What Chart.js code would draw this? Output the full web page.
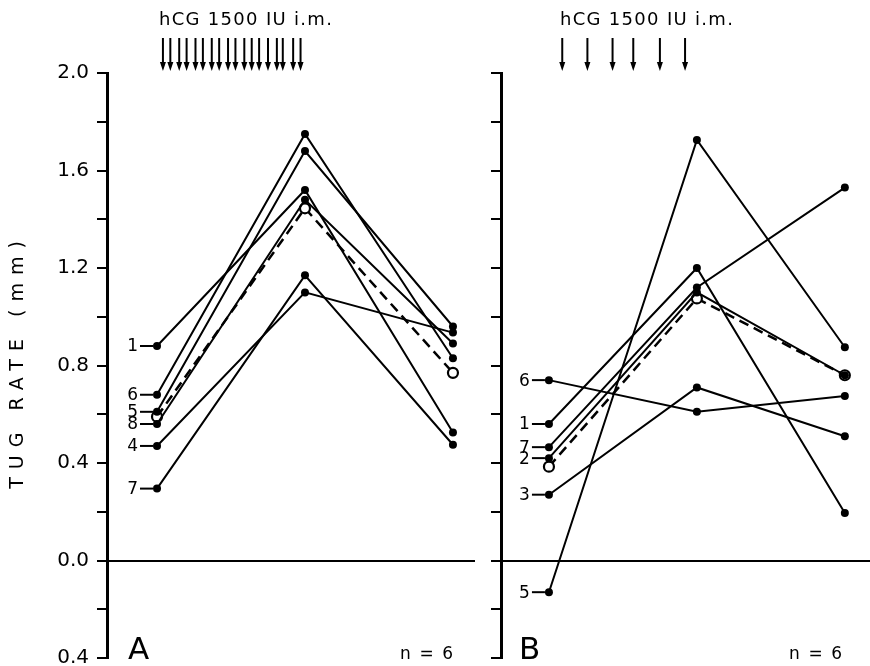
<!DOCTYPE html>
<html>
<head>
<meta charset="utf-8">
<script src="https://cdn.jsdelivr.net/npm/chart.js@4.4.1/dist/chart.umd.min.js"></script>
<style>
  html, body { margin: 0; padding: 0; background: #fff; overflow: hidden; width: 870px; height: 666px; }
  canvas { position: absolute; top: 0; }
</style>
</head>
<body>
<canvas id="chartA" width="480" height="680" style="left:0"></canvas>
<canvas id="chartB" width="390" height="680" style="left:480px"></canvas>
<script>
// time points (before, during, after hCG)
const days = [0, 1, 2];

// panel A: subject numbers and tug rate (mm)
const subjectsA = ["1", "6", "5", "8", "4", "7"];
const a1 = [0.88, 1.52, 0.525];
const a6 = [0.68, 1.75, 0.83];
const a5 = [0.61, 1.68, 0.96];
const a8 = [0.56, 1.48, 0.89];
const a4 = [0.47, 1.10, 0.935];
const a7 = [0.295, 1.17, 0.475];
const meanA = [0.59, 1.445, 0.77];

// panel B
const subjectsB = ["6", "1", "7", "2", "3", "5"];
const b6 = [0.74, 0.61, 0.675];
const b1 = [0.56, 1.20, 0.195];
const b7 = [0.465, 1.12, 1.53];
const b2 = [0.42, 1.10, 0.76];
const b3 = [0.27, 0.71, 0.51];
const b5 = [-0.13, 1.725, 0.875];
const meanB = [0.385, 1.075, 0.76];

// injection arrows (in days)
const arrowsA = [0.04, 0.09, 0.15, 0.20, 0.26, 0.31, 0.37, 0.42, 0.48, 0.53, 0.59, 0.64, 0.69, 0.75, 0.81, 0.85, 0.92, 0.97];
const arrowsB = [0.09, 0.26, 0.43, 0.57, 0.75, 0.92];

const FONT = "DejaVu Sans";

function toPoints(vals) {
  return vals.map((v, i) => ({ x: days[i], y: v }));
}

function subjectSets(names, rows) {
  return rows.map((vals, i) => ({
    label: names[i],
    data: toPoints(vals),
    borderColor: "#000",
    borderWidth: 2,
    pointRadius: 4,
    pointBackgroundColor: "#000",
    pointBorderWidth: 0,
    clip: false,
    order: 1,
  }));
}

function meanSet(vals) {
  return {
    label: "mean",
    data: toPoints(vals),
    borderColor: "#000",
    borderWidth: 2.5,
    borderDash: [10, 6],
    pointRadius: 5,
    pointBackgroundColor: "#fff",
    pointBorderColor: "#000",
    pointBorderWidth: 2.2,
    clip: false,
    order: 2,
  };
}

const extras = {
  id: "extras",
  afterDraw(chart, args, o) {
    const ctx = chart.ctx;
    const xs = chart.scales.x;
    ctx.save();
    ctx.fillStyle = "#000";
    ctx.strokeStyle = "#000";

    // hCG label + arrows
    ctx.font = "18px '" + FONT + "'";
    ctx.letterSpacing = "1.3px";
    ctx.textAlign = "left";
    ctx.textBaseline = "alphabetic";
    ctx.fillText("hCG 1500 IU i.m.", o.hcgX, 25);
    ctx.lineWidth = 2;
    o.arrows.forEach(v => {
      const x = xs.getPixelForValue(v);
      ctx.beginPath();
      ctx.moveTo(x, 38);
      ctx.lineTo(x, 63);
      ctx.stroke();
      ctx.beginPath();
      ctx.moveTo(x - 3, 62);
      ctx.lineTo(x + 3, 62);
      ctx.lineTo(x, 71);
      ctx.closePath();
      ctx.fill();
    });

    // subject numbers at the first point
    ctx.letterSpacing = "0px";
    ctx.font = "17px '" + FONT + "'";
    ctx.textAlign = "right";
    ctx.textBaseline = "middle";
    ctx.lineWidth = 2;
    o.names.forEach((name, i) => {
      const pt = chart.getDatasetMeta(i).data[0];
      ctx.beginPath();
      ctx.moveTo(pt.x - 17, pt.y);
      ctx.lineTo(pt.x - 4, pt.y);
      ctx.stroke();
      ctx.fillText(name, pt.x - 19, pt.y + 1);
    });

    // panel letter and n
    ctx.textAlign = "left";
    ctx.textBaseline = "alphabetic";
    ctx.font = "31px '" + FONT + "'";
    ctx.fillText(o.letter, o.letterX, 659);
    ctx.font = "17px '" + FONT + "'";
    ctx.letterSpacing = "1.6px";
    ctx.fillText("n = 6", o.nX, 659);

    if (o.yTitle) {
      ctx.translate(18, 365);
      ctx.rotate(-Math.PI / 2);
      ctx.font = "19px '" + FONT + "'";
      ctx.letterSpacing = "8px";
      ctx.textAlign = "center";
      ctx.textBaseline = "middle";
      ctx.fillText(o.yTitle, 4, 0);
    }
    ctx.restore();
  },
};

function makePanel(id, datasets, xMin, xMax, yWidth, padRight, showLabels, extraOpts) {
  return new Chart(id, {
    type: "line",
    data: { datasets: datasets },
    plugins: [extras],
    options: {
      responsive: false,
      animation: false,
      layout: { autoPadding: false, padding: { top: 73, bottom: 22, left: 0, right: padRight } },
      plugins: {
        legend: { display: false },
        tooltip: { enabled: false },
        extras: extraOpts,
      },
      scales: {
        x: { type: "linear", min: xMin, max: xMax, display: false },
        y: {
          min: -0.4,
          max: 2.0,
          afterFit: s => { s.width = yWidth; },
          border: { color: "#000", width: 3 },
          grid: {
            color: c => (c.tick && Math.abs(c.tick.value) < 1e-6 ? "#000" : "rgba(0,0,0,0)"),
            lineWidth: 2,
            tickColor: "#000",
            tickWidth: 2,
            tickLength: 10,
          },
          ticks: {
            stepSize: 0.2,
            autoSkip: false,
            color: "#000",
            padding: 8,
            font: { family: FONT, size: 20 },
            callback: v => {
              if (!showLabels) return "";
              const k = Math.round(v * 10);
              return k % 4 === 0 ? Math.abs(k / 10).toFixed(1) : "";
            },
          },
        },
      },
    },
  });
}

makePanel(
  "chartA",
  subjectSets(subjectsA, [a1, a6, a5, a8, a4, a7]).concat([meanSet(meanA)]),
  -0.338, 2.149, 107, 5, true,
  { names: subjectsA, arrows: arrowsA, hcgX: 159, letter: "A", letterX: 128, nX: 400, yTitle: "TUG RATE (mm)" }
);

makePanel(
  "chartB",
  subjectSets(subjectsB, [b6, b1, b7, b2, b3, b5]).concat([meanSet(meanB)]),
  -0.324, 2.17, 21, 0, false,
  { names: subjectsB, arrows: arrowsB, hcgX: 80, letter: "B", letterX: 39, nX: 309, yTitle: "" }
);
</script>
</body>
</html>
